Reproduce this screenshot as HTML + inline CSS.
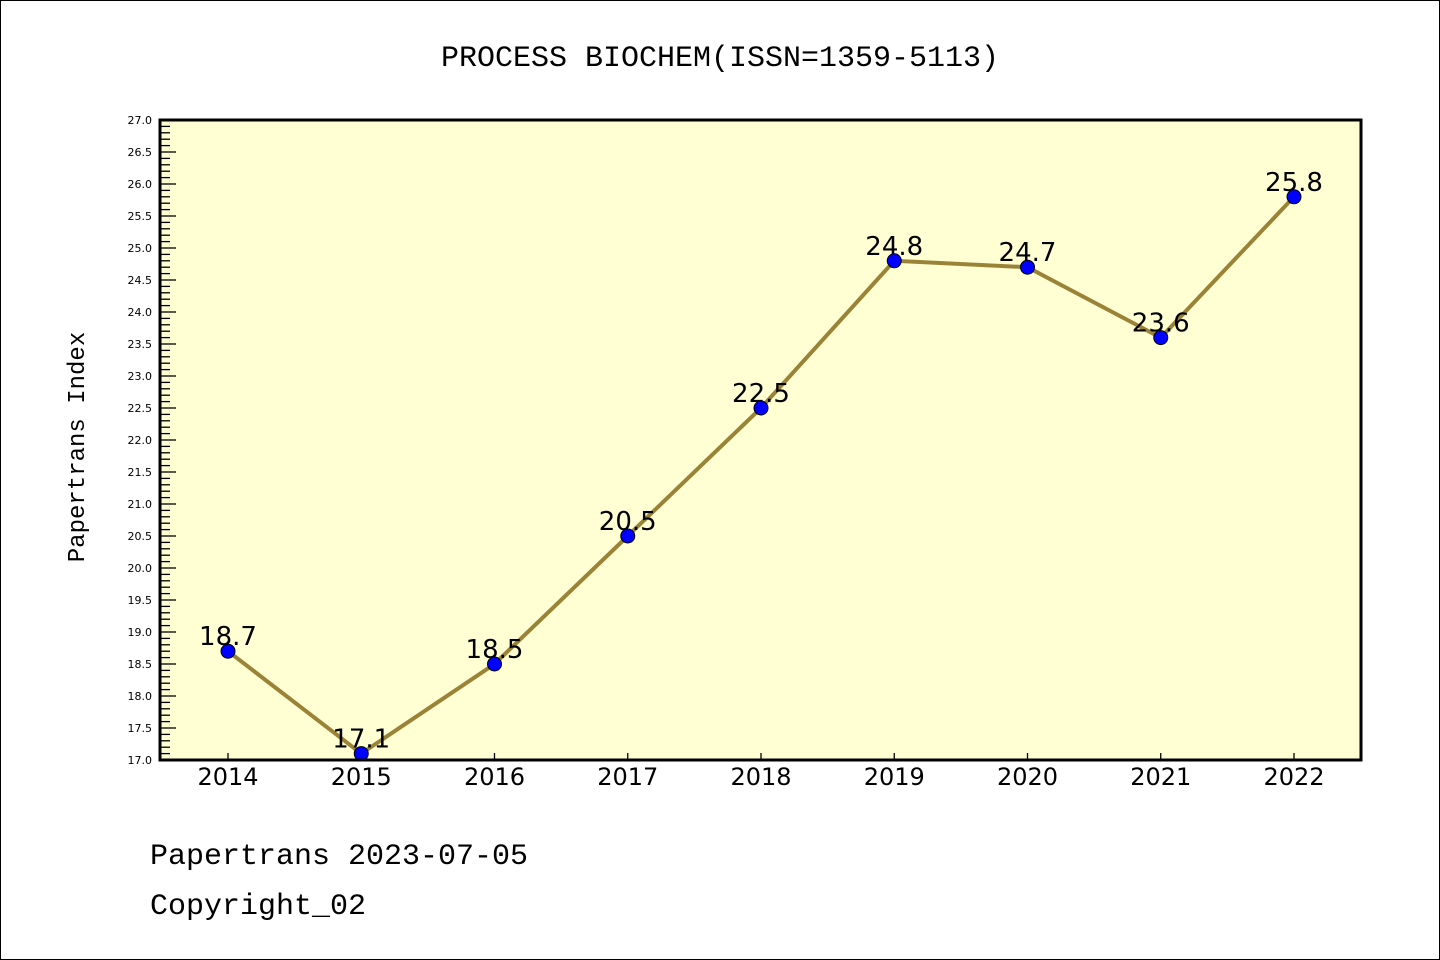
<!DOCTYPE html>
<html><head><meta charset="utf-8"><style>
body{margin:0;background:#fff;}
svg{display:block;font-family:"Liberation Mono","DejaVu Sans Mono",monospace;}
</style></head><body>
<svg id="chart" width="1440" height="960">
<rect x="0.5" y="0.5" width="1439" height="959" fill="#fff" stroke="#000"/>
<text x="720" y="66" font-size="30" text-anchor="middle">PROCESS BIOCHEM(ISSN=1359-5113)</text>
<rect x="160" y="120" width="1201" height="640" fill="#ffffd3"/>
<g id="yaxis"></g>
<g id="xaxis"></g>
<g id="series"></g>
<rect x="160" y="120" width="1201" height="640" fill="none" stroke="#000" stroke-width="3"/>
<text transform="translate(84,447) rotate(-90)" font-size="24" text-anchor="middle">Papertrans Index</text>
<text x="150" y="864" font-size="30">Papertrans 2023-07-05</text>
<text x="150" y="914" font-size="30">Copyright_02</text>
</svg>
<script>
const categories=["2014","2015","2016","2017","2018","2019","2020","2021","2022"];
const values=[18.7,17.1,18.5,20.5,22.5,24.8,24.7,23.6,25.8];
const valueLabels=["18.7","17.1","18.5","20.5","22.5","24.8","24.7","23.6","25.8"];
const yMin=17.0,yMax=27.0;
const NS="http://www.w3.org/2000/svg";
function X(i){return 228+i*(1294-228)/(categories.length-1);}
function Y(v){return 760-(v-yMin)/(yMax-yMin)*640;}
function mk(t,a,p){const e=document.createElementNS(NS,t);for(const k in a)e.setAttribute(k,a[k]);p.appendChild(e);return e;}
const ya=document.getElementById('yaxis');
for(let k=0;k<=Math.round((yMax-yMin)*10);k++){
  const v=yMin+k*0.1,y=Y(v),maj=k%5===0;
  const t=mk('line',{x1:160,x2:maj?176:170,y1:y,y2:y,stroke:'#000','stroke-width':1.3},ya);
  
  
  if(maj){const l=mk('text',{x:152,y:y+4,'font-size':11,'text-anchor':'end','font-family':'DejaVu Sans, sans-serif'},ya);l.textContent=v.toFixed(1);
  
  }
}
const xa=document.getElementById('xaxis');
categories.forEach((c,i)=>{
  const t=mk('line',{x1:X(i),x2:X(i),y1:760,y2:753,stroke:'#000','stroke-width':1.3},xa);
  
  
  const l=mk('text',{x:X(i),y:785,'font-size':24,'text-anchor':'middle','font-family':'DejaVu Sans, sans-serif'},xa);l.textContent=c;
  
  
});
const s=document.getElementById('series');
const pl=mk('polyline',{points:values.map((v,i)=>X(i)+','+Y(v)).join(' '),fill:'none',stroke:'#9a8337','stroke-width':4},s);


values.forEach((v,i)=>{
  const l=mk('text',{x:X(i),y:Y(v)-6,'font-size':26,'text-anchor':'middle','font-family':'DejaVu Sans, sans-serif'},s);l.textContent=valueLabels[i];
  
  
  const c=mk('circle',{cx:X(i),cy:Y(v),r:7,fill:'#0000ff',stroke:'#000','stroke-width':1},s);
  
  
});
</script>
</body></html>
